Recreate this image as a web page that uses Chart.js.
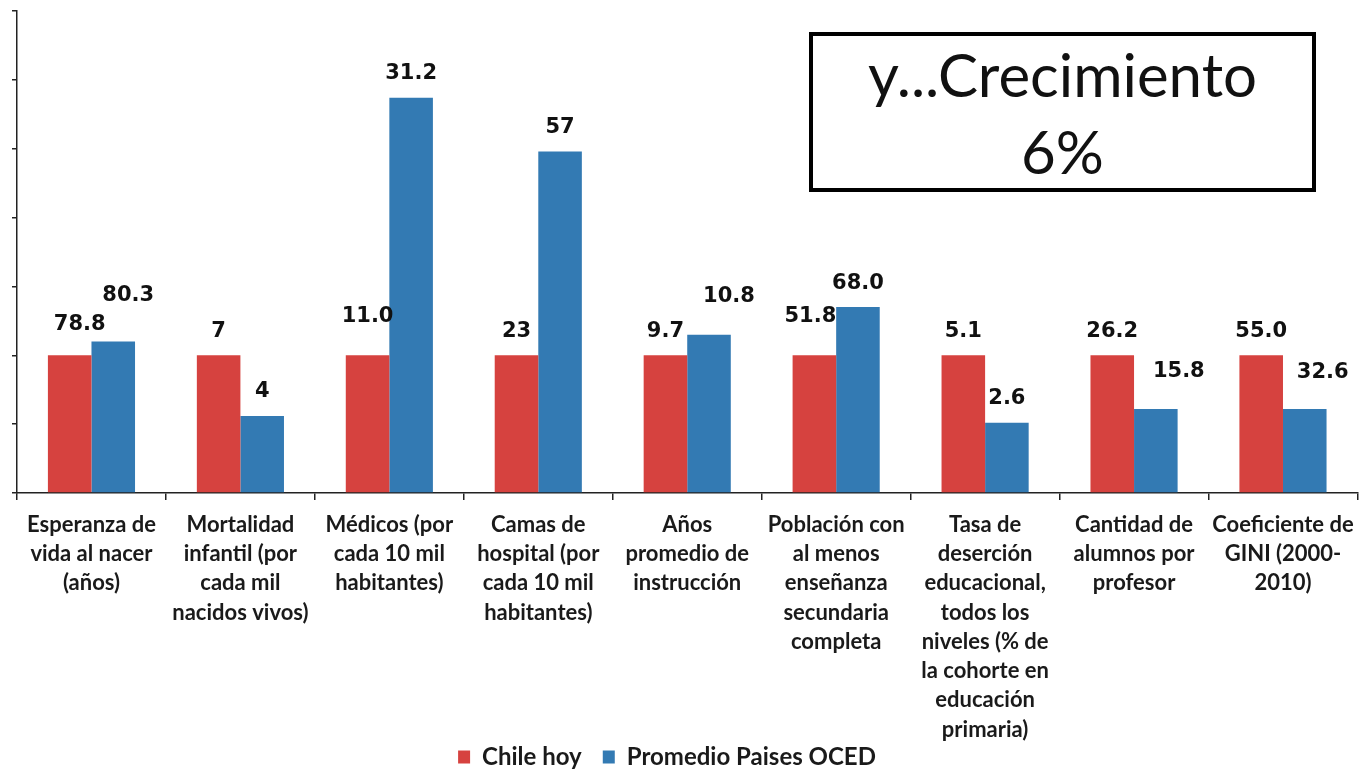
<!DOCTYPE html>
<html>
<head>
<meta charset="utf-8">
<script src="https://cdn.jsdelivr.net/npm/chart.js@4"></script>
<style>
  html, body { margin: 0; padding: 0; background: #fff; }
  #wrap { position: relative; width: 1364px; height: 771px; }
  #box {
    position: absolute; left: 809px; top: 32px; width: 499px; height: 152px;
    border: 4px solid #000; background: #fff;
    font-family: Lato, sans-serif; font-size: 60px; line-height: 77px;
    text-align: center; color: #111;
  }
</style>
</head>
<body>
<div id="wrap">
  <canvas id="chart1" width="1364" height="771"></canvas>
  <div id="box">y...Crecimiento<br>6%</div>
</div>
<script>
// categories, pre-wrapped like the original
var CATEGORIES = [
	['Esperanza de', 'vida al nacer', '(años)'],
	['Mortalidad', 'infantil (por', 'cada mil', 'nacidos vivos)'],
	['Médicos (por', 'cada 10 mil', 'habitantes)'],
	['Camas de', 'hospital (por', 'cada 10 mil', 'habitantes)'],
	['Años', 'promedio de', 'instrucción'],
	['Población con', 'al menos', 'enseñanza', 'secundaria', 'completa'],
	['Tasa de', 'deserción', 'educacional,', 'todos los', 'niveles (% de', 'la cohorte en', 'educación', 'primaria)'],
	['Cantidad de', 'alumnos por', 'profesor'],
	['Coeficiente de', 'GINI (2000-', '2010)']
];

// bar heights (Chile = 100, OECD relative to it)
var CHILE_INDEX = [100, 100, 100, 100, 100, 100, 100, 100, 100];
var OECD_INDEX = [110, 56, 287, 248, 115, 135, 51, 61, 61];

// values printed above the bars
var CHILE_LABELS = ['78.8', '7', '11.0', '23', '9.7', '51.8', '5.1', '26.2', '55.0'];
var OECD_LABELS = ['80.3', '4', '31.2', '57', '10.8', '68.0', '2.6', '15.8', '32.6'];

var Y_MIN = 0, Y_MAX = 350, Y_STEP = 50;

// manual nudges of a few labels (dx, dy in px), as dragged in the original
var LABEL_NUDGE = [
	[[10, -7], [0, 0], [0, -15], [0, 0], [0, 0], [-4, -15], [0, 0], [0, 0], [0, 0]],
	[[15, -22], [0, 0], [0, 0], [0, 0], [20, -14], [0, 0], [0, 0], [23, -13], [18, -12]]
];

var RED = '#d6423f';
var BLUE = '#337ab3';

var valueLabels = {
	id: 'valueLabels',
	afterDatasetsDraw: function(chart) {
		var ctx = chart.ctx;
		var texts = [CHILE_LABELS, OECD_LABELS];
		ctx.save();
		ctx.font = 'bold 21px "DejaVu Sans"';
		ctx.fillStyle = '#111';
		ctx.textAlign = 'center';
		ctx.textBaseline = 'middle';
		chart.data.datasets.forEach(function(ds, i) {
			chart.getDatasetMeta(i).data.forEach(function(bar, j) {
				var n = LABEL_NUDGE[i][j];
				ctx.fillText(texts[i][j], bar.x + n[0], bar.y - 24 + n[1]);
			});
		});
		ctx.restore();
	}
};

var ctx = document.getElementById('chart1').getContext('2d');
new Chart(ctx, {
	type: 'bar',
	data: {
		labels: CATEGORIES,
		datasets: [{
			label: 'Chile hoy',
			data: CHILE_INDEX,
			backgroundColor: RED
		}, {
			label: 'Promedio Paises OCED',
			data: OECD_INDEX,
			backgroundColor: BLUE
		}]
	},
	options: {
		responsive: false,
		animation: false,
		layout: {
			padding: { left: 12, right: 6, top: 11, bottom: -8 }
		},
		datasets: {
			bar: { categoryPercentage: 0.585, barPercentage: 1.0 }
		},
		scales: {
			x: {
				grid: { drawOnChartArea: false, color: '#222', tickLength: 7, lineWidth: 1.5 },
				border: { color: '#222', width: 1.5 },
				ticks: {
					color: '#1a1a1a',
					maxRotation: 0,
					autoSkip: false,
					padding: 10,
					font: { family: 'Lato', weight: 'bold', size: 22, lineHeight: 1.33 }
				},
				afterFit: function(scale) { scale.height = 252; }
			},
			y: {
				min: Y_MIN,
				max: Y_MAX,
				grid: { drawOnChartArea: false, color: '#222', tickLength: 5, lineWidth: 1.5 },
				border: { color: '#222', width: 1.5 },
				ticks: { display: false, stepSize: Y_STEP }
			}
		},
		plugins: {
			legend: {
				position: 'bottom',
				labels: {
					color: '#1a1a1a',
					boxWidth: 12,
					boxHeight: 13,
					padding: 0,
					font: { family: 'Lato', weight: 'bold', size: 24 },
					// wider gap between the two items, and the group sits a bit left of centre
					generateLabels: function(chart) {
						var items = Chart.defaults.plugins.legend.labels.generateLabels(chart);
						items[0].text += '\u2003\u2009';
						items[items.length - 1].text += '\u2003\u2003';
						return items;
					}
				}
			},
			tooltip: { enabled: false }
		}
	},
	plugins: [valueLabels]
});
</script>
</body>
</html>
